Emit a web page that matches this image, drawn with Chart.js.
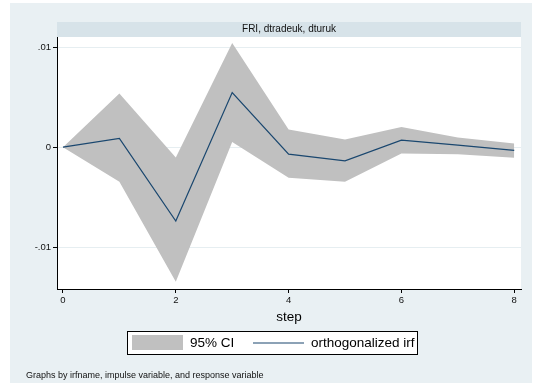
<!DOCTYPE html>
<html>
<head>
<meta charset="utf-8">
<script src="https://cdn.jsdelivr.net/npm/chart.js@4"></script>
<style>
  html, body { margin: 0; padding: 0; background: #ffffff; }
  #wrap { width: 541px; height: 387px; }
</style>
</head>
<body>
<div id="wrap"><canvas id="irfChart" width="541" height="387"></canvas></div>
<script>
var steps = [0, 1, 2, 3, 4, 5, 6, 7, 8]
var irf = [0, 0.00087, -0.0074, 0.00547, -0.0007, -0.00137, 0.0007, 0.0002, -0.00033]
var ciUpper = [0, 0.00537, -0.00103, 0.01043, 0.00177, 0.00077, 0.00203, 0.00097, 0.00037]
var ciLower = [0, -0.00347, -0.01347, 0.00053, -0.00307, -0.00347, -0.00063, -0.0007, -0.00107]
var xTicks = [0, 2, 4, 6, 8]
var yTicks = [-0.01, 0, 0.01]
var panelTitle = "FRI, dtradeuk, dturuk"
var note = "Graphs by irfname, impulse variable, and response variable"

var FONT = "'Liberation Sans', Arial, Helvetica, sans-serif"
var BG = "#e9f0f3"
var STRIP = "#d7e3e9"
var CI_GRAY = "#c0c0c0"
var NAVY = "#1a476f"

function pts(vals){
    var out = []
    for(var i=0;i<steps.length;i++){
        out.push({x: steps[i], y: vals[i]})
    }
    return out
}

function fmtY(v){
    if(Math.abs(v) < 1e-12) return "0"
    var s = String(Math.round(v*100)/100)
    return s.replace("0.", ".")
}

// background, white plot region, title strip, legend and note
var stataFrame = {
    id: 'stataFrame',
    beforeDraw: function(chart){
        var ctx = chart.ctx
        var a = chart.chartArea
        ctx.save()
        ctx.fillStyle = "#ffffff"
        ctx.fillRect(0, 0, chart.width, chart.height)
        ctx.fillStyle = BG
        ctx.fillRect(10, 3, 522, 380)
        ctx.fillStyle = "#ffffff"
        ctx.fillRect(a.left, a.top, a.right - a.left, a.bottom - a.top)
        ctx.fillStyle = STRIP
        ctx.fillRect(a.left, 22, a.right - a.left, a.top - 22)
        ctx.fillStyle = "#111"
        ctx.font = "10px " + FONT
        ctx.textAlign = "center"
        ctx.textBaseline = "middle"
        ctx.fillText(panelTitle, (a.left + a.right)/2, 29.5)
        ctx.restore()
    },
    afterDraw: function(chart){
        var ctx = chart.ctx
        var ds = chart.data.datasets
        ctx.save()
        // legend box
        ctx.strokeStyle = "#000"
        ctx.lineWidth = 1
        ctx.fillStyle = "#ffffff"
        ctx.fillRect(127.5, 331.5, 290, 23)
        ctx.strokeRect(127.5, 331.5, 290, 23)
        ctx.fillStyle = CI_GRAY
        ctx.fillRect(132, 335, 51, 15)
        ctx.strokeStyle = NAVY
        ctx.lineWidth = 1.2
        ctx.beginPath()
        ctx.moveTo(253, 343)
        ctx.lineTo(304, 343)
        ctx.stroke()
        ctx.fillStyle = "#000"
        ctx.font = "13.5px " + FONT
        ctx.textAlign = "left"
        ctx.textBaseline = "middle"
        ctx.fillText(ds[1].label, 190, 343)
        ctx.fillText(ds[0].label, 311, 343)
        // note
        ctx.font = "9px " + FONT
        ctx.fillStyle = "#111"
        ctx.fillText(note, 26, 376)
        ctx.restore()
    }
}

var ctx = document.getElementById('irfChart').getContext('2d')
var myChart = new Chart(ctx, {
    type: 'line',
    data: {
        datasets: [{
            label: 'orthogonalized irf',
            data: pts(irf),
            borderColor: NAVY,
            borderWidth: 1.2,
            pointRadius: 0,
            fill: false,
            tension: 0
        }, {
            label: '95% CI',
            data: pts(ciUpper),
            borderWidth: 0,
            borderColor: 'rgba(0,0,0,0)',
            backgroundColor: CI_GRAY,
            pointRadius: 0,
            fill: '+1',
            tension: 0
        }, {
            label: 'ci lower',
            data: pts(ciLower),
            borderWidth: 0,
            borderColor: 'rgba(0,0,0,0)',
            pointRadius: 0,
            fill: false,
            tension: 0
        }]
    },
    options: {
        responsive: false,
        animation: false,
        events: [],
        layout: { padding: { left: 0, right: 20, top: 37, bottom: 62 } },
        plugins: {
            legend: { display: false },
            tooltip: { enabled: false }
        },
        scales: {
            x: {
                type: 'linear',
                min: -0.106,
                max: 8.12,
                afterBuildTicks: function(axis){
                    axis.ticks = xTicks.map(function(v){ return {value: v} })
                },
                afterFit: function(axis){ axis.height = 36 },
                grid: {
                    drawOnChartArea: false,
                    tickLength: 4,
                    tickColor: '#000'
                },
                border: { display: true, color: '#000', width: 1 },
                ticks: {
                    color: '#111',
                    font: { size: 9.5, family: FONT },
                    padding: 2,
                    maxRotation: 0
                },
                title: {
                    display: true,
                    text: 'step',
                    color: '#000',
                    font: { size: 13.5, family: FONT },
                    padding: { top: 0, bottom: 0 }
                }
            },
            y: {
                type: 'linear',
                min: -0.0142,
                max: 0.01103,
                afterBuildTicks: function(axis){
                    axis.ticks = yTicks.map(function(v){ return {value: v} })
                },
                afterFit: function(axis){ axis.width = 57 },
                grid: {
                    color: '#e6eef1',
                    lineWidth: 1,
                    tickLength: 4,
                    tickColor: '#000'
                },
                border: { display: true, color: '#000', width: 1 },
                ticks: {
                    color: '#111',
                    font: { size: 9.5, family: FONT },
                    padding: 2,
                    callback: function(v){ return fmtY(v) }
                }
            }
        }
    },
    plugins: [stataFrame]
});
</script>
</body>
</html>
